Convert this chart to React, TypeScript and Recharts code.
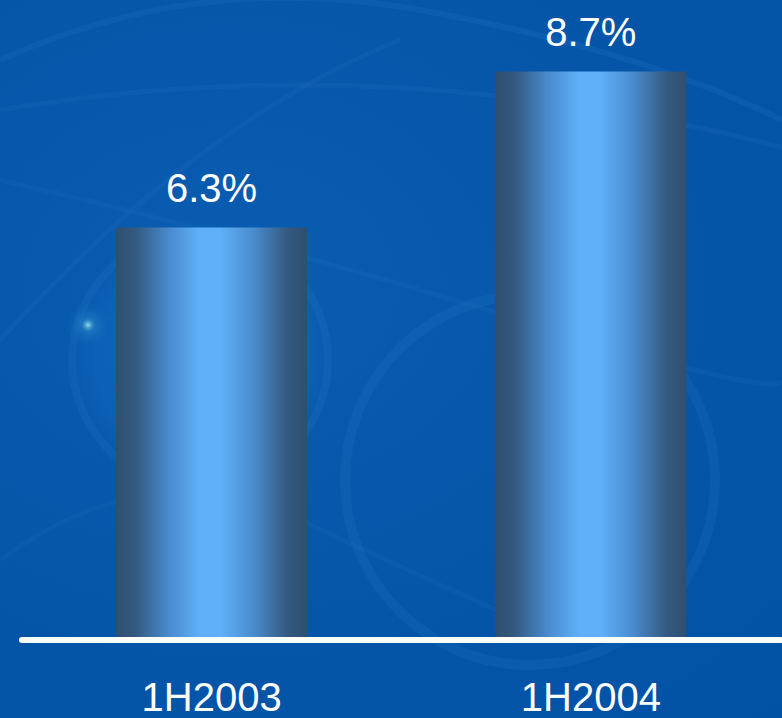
import React from 'react';
import { BarChart, Bar, XAxis, YAxis, LabelList } from 'recharts';

const categories = ['1H2003', '1H2004'];
const values = [6.3, 8.7];
const labels = ['6.3%', '8.7%'];

const data = categories.map((c, i) => ({ name: c, value: values[i], label: labels[i] }));

const FONT = '"Liberation Sans", Arial, sans-serif';

export default function App() {
  return (
    <div
      style={{
        position: 'absolute',
        left: 0,
        top: 0,
        width: 782,
        height: 718,
        overflow: 'hidden',
        background: 'radial-gradient(ellipse at 30% 40%, #0a5db2 0%, #0656aa 50%, #0052a5 100%)',
      }}
    >
      <svg width={782} height={718} style={{ position: 'absolute', left: 0, top: 0 }}>
        <defs>
          <radialGradient id="glow" cx="0.5" cy="0.5" r="0.5">
            <stop offset="0%" stopColor="#9fe8f0" stopOpacity={0.9} />
            <stop offset="30%" stopColor="#3fa0d8" stopOpacity={0.3} />
            <stop offset="100%" stopColor="#1070c0" stopOpacity={0} />
          </radialGradient>
          <radialGradient id="lens" cx="0.5" cy="0.5" r="0.5">
            <stop offset="0%" stopColor="#1a78d0" stopOpacity={0.35} />
            <stop offset="80%" stopColor="#1a78d0" stopOpacity={0.2} />
            <stop offset="100%" stopColor="#1a78d0" stopOpacity={0} />
          </radialGradient>
        </defs>
        <circle cx={200} cy={360} r={130} fill="url(#lens)" />
        <circle cx={200} cy={360} r={128} fill="none" stroke="#2a80cc" strokeOpacity={0.16} strokeWidth={8} />
        <circle cx={530} cy={480} r={185} fill="none" stroke="#2a80cc" strokeOpacity={0.16} strokeWidth={10} />
        <circle cx={88} cy={325} r={22} fill="url(#glow)" />
        <path d="M0 60 Q 200 -30 420 10 T 782 120" fill="none" stroke="#2a78c8" strokeOpacity={0.2} strokeWidth={6} />
        <path d="M0 110 Q 300 60 600 110 T 782 180" fill="none" stroke="#2a78c8" strokeOpacity={0.16} strokeWidth={5} />
        <path d="M0 340 Q 200 120 400 40" fill="none" stroke="#2a78c8" strokeOpacity={0.16} strokeWidth={5} />
        <path d="M0 180 Q 260 240 520 320 T 782 380" fill="none" stroke="#2a78c8" strokeOpacity={0.13} strokeWidth={5} />
        <path d="M0 560 Q 150 450 300 520 T 520 620" fill="none" stroke="#2a78c8" strokeOpacity={0.13} strokeWidth={5} />
      </svg>
      <div style={{ position: 'absolute', left: 0, top: 0 }}>
        <BarChart
          width={782}
          height={718}
          data={data}
          margin={{ top: 52, right: 1.5, bottom: 0, left: 22 }}
        >
          <defs>
            <linearGradient id="barGrad" x1="0" y1="0" x2="1" y2="0">
              <stop offset="0%" stopColor="#2f4f6f" />
              <stop offset="10%" stopColor="#33597f" />
              <stop offset="28%" stopColor="#4a8bcf" />
              <stop offset="44%" stopColor="#5fb0f8" />
              <stop offset="55%" stopColor="#5fb0f8" />
              <stop offset="72%" stopColor="#4a8bcf" />
              <stop offset="90%" stopColor="#33597f" />
              <stop offset="100%" stopColor="#2f4f6f" />
            </linearGradient>
          </defs>
          <YAxis hide domain={[0, 9]} />
          <XAxis
            dataKey="name"
            height={81}
            tickLine={false}
            tickSize={0}
            tickMargin={46}
            axisLine={{ stroke: '#ffffff', strokeWidth: 6, strokeLinecap: 'round', transform: 'translate(0,3)' }}
            tick={{ fill: '#ffffff', fontSize: 40, fontFamily: FONT }}
            interval={0}
          />
          <Bar dataKey="value" fill="url(#barGrad)" barSize={191} isAnimationActive={false}>
            <LabelList
              dataKey="label"
              position="top"
              offset={26}
              fill="#ffffff"
              style={{ fontSize: 40, fontFamily: FONT }}
            />
          </Bar>
        </BarChart>
      </div>
    </div>
  );
}
